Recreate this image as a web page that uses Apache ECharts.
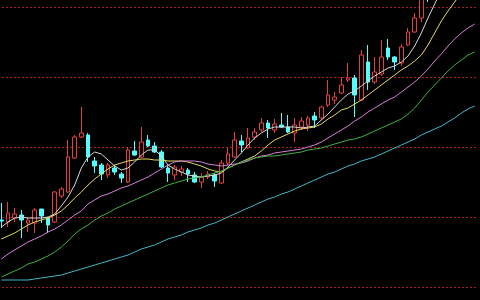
<!doctype html>
<html lang="en">

<head>
    <meta charset="utf-8">
    <title>K-line chart</title>
    <script src="https://cdn.jsdelivr.net/npm/echarts@6/dist/echarts.min.js"></script>
    <style>
        html, body { margin: 0; padding: 0; background: #000; }
        #mychart { width: 480px; height: 300px; }
    </style>
</head>

<body>
    <div id="mychart"></div>

    <script type="text/javascript">
        // daily candles: [open, close, low, high]
        var candles = [
            [20.7, 20.6, 19.9, 22.4], [20.5, 21.4, 20.0, 22.5], [20.9, 21.3, 20.5, 21.9], [21.2, 20.7, 18.9, 21.7],
            [20.4, 20.7, 19.5, 21.0], [20.4, 21.7, 19.4, 21.9], [21.8, 21.1, 20.4, 21.8], [20.9, 20.2, 19.4, 21.0],
            [20.5, 23.5, 20.4, 23.6], [23.1, 23.8, 22.9, 24.0], [23.5, 27.0, 23.4, 28.7], [26.9, 29.0, 26.8, 29.2],
            [29.0, 29.4, 28.9, 32.0], [29.2, 27.0, 26.5, 29.4], [26.6, 26.1, 25.4, 27.0], [26.2, 25.3, 24.7, 26.4],
            [25.2, 26.2, 24.9, 26.4], [25.9, 25.5, 25.2, 26.2], [25.3, 24.9, 24.4, 25.5], [24.5, 27.7, 24.4, 28.0],
            [27.6, 27.2, 27.1, 28.6], [27.0, 28.5, 26.9, 30.0], [28.7, 28.1, 28.0, 29.2], [28.1, 27.5, 27.4, 28.5],
            [27.5, 26.0, 25.9, 27.7], [25.9, 25.4, 24.5, 26.2], [25.2, 26.0, 24.7, 26.2], [25.5, 25.8, 25.1, 26.1],
            [25.7, 25.3, 24.5, 25.9], [25.2, 24.5, 24.4, 25.5], [24.5, 25.0, 23.9, 25.4], [25.0, 25.3, 24.8, 25.6],
            [25.2, 24.6, 24.0, 25.4], [24.4, 26.4, 24.3, 26.7], [26.4, 27.3, 26.2, 27.9], [27.0, 28.7, 26.9, 29.5],
            [28.6, 28.2, 27.5, 29.2], [27.9, 28.9, 27.8, 29.9], [29.0, 29.5, 28.7, 29.9], [29.7, 30.4, 29.5, 30.9],
            [30.4, 29.9, 28.9, 30.7], [29.7, 30.3, 29.4, 30.8], [30.2, 30.0, 29.9, 31.4], [30.0, 29.5, 29.4, 31.2],
            [29.4, 30.2, 28.5, 30.9], [30.0, 30.6, 29.7, 31.0], [30.2, 30.9, 29.6, 31.1], [31.1, 30.7, 29.9, 31.5],
            [30.9, 32.0, 30.7, 32.1], [32.2, 33.2, 32.0, 34.7], [32.7, 33.0, 32.3, 33.5], [33.4, 34.2, 33.3, 35.0],
            [34.7, 34.9, 34.5, 36.4], [34.9, 33.2, 31.0, 35.2], [32.7, 37.2, 32.7, 37.7], [36.5, 34.5, 33.7, 38.2],
            [34.5, 35.5, 34.3, 37.0], [35.3, 37.0, 35.1, 38.7], [37.9, 37.0, 36.7, 38.8], [37.0, 36.5, 35.7, 37.1],
            [36.4, 38.0, 36.1, 38.3], [38.2, 39.5, 38.1, 39.9], [39.5, 40.9, 39.4, 41.4], [40.9, 43.1, 40.5, 43.5],
            [44.2, 43.2, 42.5, 44.7], [43.5, 45.5, 43.0, 46.0], [45.5, 47.0, 45.0, 47.8], [47.0, 46.2, 45.8, 47.6],
            [46.2, 48.0, 46.0, 48.6], [48.0, 49.2, 47.5, 49.8], [49.2, 48.5, 48.0, 50.0], [48.5, 50.5, 48.3, 51.0]
        ];

        var ma5 = [
            20.0, 20.5, 20.9, 21.0, 20.9, 20.9, 20.9, 21.0, 21.3, 22.1, 23.0, 24.2, 25.9, 27.0, 27.5, 27.3, 26.7, 26.1,
            25.7, 25.9, 26.5, 27.2, 27.7, 27.7, 27.1, 26.2, 25.8, 25.5, 25.2, 25.1, 25.0, 25.1, 25.2, 25.4, 26.0, 26.7,
            27.4, 28.2, 28.9, 29.4, 29.8, 30.0, 30.0, 30.0, 30.0, 29.9, 30.0, 30.1, 30.7, 31.3, 32.0, 32.7, 33.3, 33.6,
            34.1, 34.6, 35.1, 35.5, 35.9, 36.1, 36.5, 37.1, 38.1, 39.4, 40.9, 42.3, 43.7, 44.9, 46.0, 47.1, 48.1, 49.1
        ];
        var ma10 = [
            18.8, 19.1, 19.4, 19.8, 20.2, 20.5, 20.7, 20.9, 21.2, 21.6, 22.2, 22.9, 23.5, 24.2, 24.8, 25.3, 25.8, 26.2,
            26.4, 26.6, 26.7, 26.8, 26.8, 26.7, 26.7, 26.6, 26.6, 26.6, 26.5, 26.3, 26.1, 25.8, 25.6, 25.5, 25.9, 26.2,
            26.5, 26.8, 27.1, 27.6, 28.2, 28.7, 29.0, 29.3, 29.6, 29.8, 29.9, 30.0, 30.3, 30.8, 31.2, 31.7, 31.9, 32.3,
            32.7, 33.2, 33.7, 34.2, 34.7, 35.2, 35.7, 36.1, 36.6, 37.2, 38.2, 39.4, 40.6, 41.6, 42.5, 43.4, 44.3, 45.2
        ];
        var ma20 = [
            16.8, 17.3, 17.7, 18.1, 18.5, 18.8, 19.1, 19.5, 19.8, 20.2, 20.7, 21.2, 21.6, 22.3, 22.7, 23.1, 23.3, 23.6,
            23.9, 24.1, 24.4, 24.7, 25.0, 25.4, 25.8, 26.2, 26.5, 26.6, 26.6, 26.6, 26.5, 26.3, 26.2, 26.1, 26.2, 26.3,
            26.4, 26.6, 26.9, 27.1, 27.2, 27.4, 27.5, 27.6, 27.7, 27.8, 28.0, 28.2, 28.5, 28.9, 29.3, 29.7, 30.1, 30.6,
            31.0, 31.5, 31.9, 32.3, 32.7, 33.0, 33.5, 34.0, 34.5, 35.1, 35.8, 36.6, 37.3, 38.1, 38.8, 39.4, 39.9, 40.3
        ];
        var ma30 = [
            15.0, 15.3, 15.6, 15.9, 16.3, 16.5, 16.8, 17.1, 17.5, 18.0, 18.6, 19.3, 19.8, 20.2, 20.7, 21.1, 21.4, 21.8,
            22.1, 22.4, 22.7, 23.0, 23.3, 23.6, 23.9, 24.2, 24.4, 24.6, 24.8, 24.9, 25.0, 25.2, 25.4, 25.6, 25.9, 26.2,
            26.5, 26.7, 26.9, 27.0, 27.1, 27.1, 27.2, 27.3, 27.4, 27.5, 27.7, 27.8, 27.9, 28.1, 28.3, 28.5, 28.7, 28.8,
            29.0, 29.3, 29.6, 29.9, 30.2, 30.5, 30.8, 31.3, 31.9, 32.7, 33.5, 34.2, 34.9, 35.6, 36.2, 36.7, 37.2, 37.5
        ];
        var ma60 = [
            14.7, 14.7, 14.7, 14.7, 14.7, 14.8, 14.9, 15.0, 15.1, 15.2, 15.4, 15.6, 15.8, 16.0, 16.2, 16.4, 16.6, 16.8,
            17.0, 17.2, 17.5, 17.8, 18.0, 18.2, 18.5, 18.8, 19.0, 19.2, 19.5, 19.7, 19.9, 20.2, 20.4, 20.7, 21.0, 21.3,
            21.6, 21.9, 22.2, 22.5, 22.8, 23.0, 23.3, 23.5, 23.8, 24.1, 24.4, 24.7, 25.0, 25.3, 25.5, 25.8, 26.1, 26.3,
            26.6, 26.8, 27.0, 27.3, 27.6, 27.9, 28.2, 28.5, 28.8, 29.2, 29.5, 29.8, 30.1, 30.5, 30.9, 31.4, 31.8, 32.1
        ];

        var categories = candles.map(function (c, i) { return 'D' + (i + 1); });

        function maLine(name, data, color) {
            return {
                name: name,
                type: 'line',
                data: data,
                symbol: 'none',
                smooth: false,
                lineStyle: { width: 1, color: color },
                z: 3
            };
        }

        var myChart = echarts.init(document.getElementById('mychart'));
        var option = {
            backgroundColor: '#000',
            animation: false,
            grid: { left: -2, right: 2, top: -63, bottom: -57, outerBoundsMode: 'none', containLabel: false },
            xAxis: {
                type: 'category',
                data: categories,
                boundaryGap: true,
                axisLine: { show: false },
                axisTick: { show: false },
                axisLabel: { show: false },
                splitLine: { show: false }
            },
            yAxis: {
                type: 'value',
                min: 7,
                max: 49,
                interval: 7,
                axisLine: { show: false },
                axisTick: { show: false },
                axisLabel: { show: false },
                splitLine: {
                    show: true,
                    lineStyle: { color: '#a82020', width: 1, type: [2, 2] }
                }
            },
            series: [
                {
                    name: 'K',
                    type: 'candlestick',
                    data: candles,
                    barWidth: 4,
                    itemStyle: {
                        color: '#000',
                        color0: '#54fcfc',
                        borderColor: '#e04040',
                        borderColor0: '#54fcfc',
                        borderWidth: 1
                    },
                    z: 2
                },
                maLine('MA5', ma5, '#d8d8d8'),
                maLine('MA10', ma10, '#e8d860'),
                maLine('MA20', ma20, '#d880d8'),
                maLine('MA30', ma30, '#40b040'),
                maLine('MA60', ma60, '#40b8c8')
            ]
        };
        myChart.setOption(option);
    </script>
</body>

</html>
